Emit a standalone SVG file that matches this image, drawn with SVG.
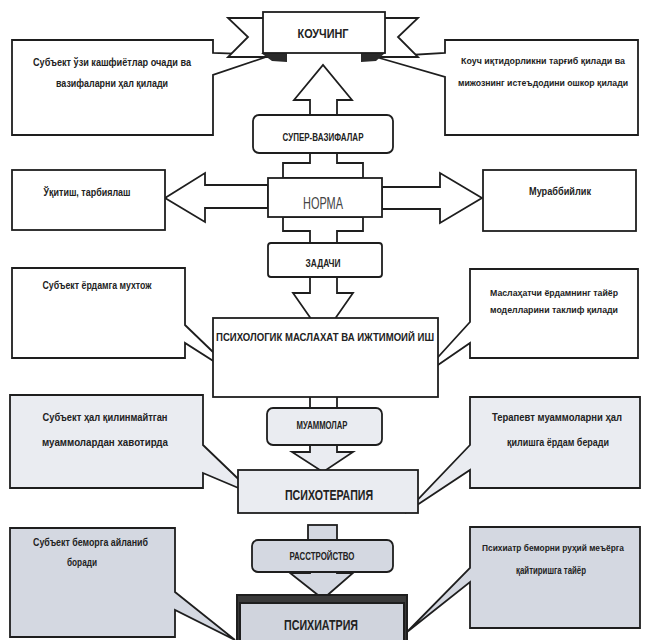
<svg xmlns="http://www.w3.org/2000/svg" width="647" height="640" viewBox="0 0 647 640">
<style>
.s{stroke:#1e1e1e;stroke-width:1.8;stroke-linejoin:miter}
.w{fill:#ffffff}
.g1{fill:#eaecf1}
.g2{fill:#d4d8e1}
.t{font-family:"Liberation Sans Narrow","Liberation Sans",Arial,sans-serif;font-weight:bold;fill:#222;text-anchor:middle}
.n{font-family:"Liberation Sans Narrow","Liberation Sans",Arial,sans-serif;font-weight:normal;fill:#444;text-anchor:middle}
</style>
<rect width="647" height="640" fill="#ffffff"/>
<g id="connectors">
  <polygon class="s w" points="310,115 310,100 294,100 323,65 352,100 337,100 337,115"/>
  <polygon class="s w" points="283,178 283,163 310,163 310,153 337,153 337,163 363,163 363,178"/>
  <polygon class="s w" points="283,217 283,231 310,231 310,243 337,243 337,231 363,231 363,217"/>
  <polygon class="s w" points="268,185 205,185 205,173 165,198 205,222 205,208 268,208"/>
  <polygon class="s w" points="382,187 440,187 440,173 482,198 440,223 440,209 382,209"/>
  <polygon class="s w" points="310,277 310,293 293,293 323,336 353,293 337,293 337,277"/>
  <rect class="s w" x="310" y="396" width="27" height="13"/>
  <polygon class="s g1" points="310,444 310,452 292,452 323,472 353,452 337,452 337,444"/>
  <rect class="s g2" x="308" y="525" width="29" height="16"/>
  <polygon class="s g2" points="310,571 310,573 290,573 323,599 353,573 337,573 337,571"/>
</g>
<g id="callout-tl">
  <path class="s w" d="M12,40 H213 V53 L272,55 L213,75 V135 H12 Z"/>
  <text class="t" x="112" y="66" font-size="10.5" textLength="158" lengthAdjust="spacingAndGlyphs">Субъект ўзи кашфиётлар очади ва</text>
  <text class="t" x="112" y="87" font-size="10.5" textLength="112" lengthAdjust="spacingAndGlyphs">вазифаларни ҳал қилади</text>
</g>
<g id="callout-tr">
  <path class="s w" d="M445,40 H638 V135 H445 V77 L376,57 L445,53 Z"/>
  <text class="t" x="543" y="64" font-size="9.5" textLength="164" lengthAdjust="spacingAndGlyphs">Коуч иқтидорликни тарғиб қилади ва</text>
  <text class="t" x="543" y="86" font-size="9.5" textLength="170" lengthAdjust="spacingAndGlyphs">мижознинг истеъдодини ошкор қилади</text>
</g>
<g id="coaching">
  <polygon class="s w" points="228,18 285,18 285,57 228,57 248,37"/>
  <polygon class="s w" points="418,18 363,18 363,57 418,57 398,37"/>
  <polygon fill="#2a2a2a" points="261,53 287,53 287,62 272,61"/>
  <polygon fill="#2a2a2a" points="361,53 385,53 376,61 361,62"/>
  <rect class="s w" x="263" y="12" width="122" height="41"/>
  <text class="t" x="323" y="38" font-size="13" textLength="51" lengthAdjust="spacingAndGlyphs">КОУЧИНГ</text>
</g>
<g id="super">
  <rect class="s w" x="253" y="115" width="140" height="38" rx="6"/>
  <text class="t" x="323" y="141" font-size="10" textLength="81" lengthAdjust="spacingAndGlyphs">СУПЕР-ВАЗИФАЛАР</text>
</g>
<g id="norma">
  <rect class="s w" x="268" y="178" width="114" height="39"/>
  <text class="n" x="323" y="209" font-size="17" textLength="40" lengthAdjust="spacingAndGlyphs">НОРМА</text>
</g>
<g id="oqitish">
  <rect class="s w" x="12" y="170" width="153" height="60"/>
  <text class="t" x="87" y="196" font-size="11" textLength="87" lengthAdjust="spacingAndGlyphs">Ўқитиш, тарбиялаш</text>
</g>
<g id="murabbiylik">
  <rect class="s w" x="483" y="170" width="153" height="61"/>
  <text class="t" x="560" y="195" font-size="11" textLength="62" lengthAdjust="spacingAndGlyphs">Мураббийлик</text>
</g>
<g id="zadachi">
  <rect class="s w" x="268" y="243" width="114" height="34" rx="3"/>
  <text class="t" x="323" y="267" font-size="10" textLength="35" lengthAdjust="spacingAndGlyphs">ЗАДАЧИ</text>
</g>
<g id="callout-ml">
  <path class="s w" d="M12,268 H185 V325 L240,378 L185,343 V358 H12 Z"/>
  <text class="t" x="97" y="289" font-size="10.5" textLength="109" lengthAdjust="spacingAndGlyphs">Субъект ёрдамга мухтож</text>
</g>
<g id="callout-mr">
  <path class="s w" d="M470,269 H638 V358 H470 V343 L419,378 L470,322 Z"/>
  <text class="t" x="554" y="296" font-size="9.5" textLength="128" lengthAdjust="spacingAndGlyphs">Маслаҳатчи ёрдамнинг тайёр</text>
  <text class="t" x="554" y="313" font-size="9.5" textLength="128" lengthAdjust="spacingAndGlyphs">моделларини таклиф қилади</text>
</g>
<g id="psixolog">
  <rect class="s w" x="213" y="318" width="225" height="79"/>
  <text class="t" x="325" y="341" font-size="10" textLength="218" lengthAdjust="spacingAndGlyphs">ПСИХОЛОГИК МАСЛАХАТ ВА ИЖТИМОИЙ ИШ</text>
</g>
<g id="muammolar">
  <rect class="s g1" x="267" y="408" width="115" height="37" rx="6"/>
  <text class="t" x="322" y="429" font-size="10" textLength="51" lengthAdjust="spacingAndGlyphs">МУАММОЛАР</text>
</g>
<g id="callout-pl">
  <path class="s g1" d="M10,395 H203 V445 L255,495 L203,473 V488 H10 Z"/>
  <text class="t" x="105" y="421" font-size="11.5" textLength="125" lengthAdjust="spacingAndGlyphs">Субъект ҳал қилинмайтган</text>
  <text class="t" x="105" y="446" font-size="11.5" textLength="126" lengthAdjust="spacingAndGlyphs">муаммолардан хавотирда</text>
</g>
<g id="callout-pr">
  <path class="s g1" d="M470,397 H640 V488 H470 V470 L405,513 L470,445 Z"/>
  <text class="t" x="557" y="421" font-size="11" textLength="130" lengthAdjust="spacingAndGlyphs">Терапевт муаммоларни ҳал</text>
  <text class="t" x="558" y="446" font-size="11" textLength="102" lengthAdjust="spacingAndGlyphs">қилишга ёрдам беради</text>
</g>
<g id="psixoterapiya">
  <rect class="s g1" x="238" y="470" width="180" height="43" stroke-width="2.2"/>
  <text class="t" x="329" y="500" font-size="15" textLength="88" lengthAdjust="spacingAndGlyphs">ПСИХОТЕРАПИЯ</text>
</g>
<g id="rasstroystvo">
  <rect class="s g2" x="252" y="540" width="141" height="32" rx="6"/>
  <text class="t" x="322" y="560" font-size="10" textLength="65" lengthAdjust="spacingAndGlyphs">РАССТРОЙСТВО</text>
</g>
<g id="callout-bl">
  <path class="s g2" d="M10,528 H175 V592 L235,640 L175,610 V637 H10 Z"/>
  <text class="t" x="33" y="546" font-size="11" textLength="115" lengthAdjust="spacingAndGlyphs" style="text-anchor:start">Субъект беморга айланиб</text>
  <text class="t" x="67" y="566" font-size="11" textLength="30" lengthAdjust="spacingAndGlyphs" style="text-anchor:start">боради</text>
</g>
<g id="callout-br">
  <path class="s g2" d="M470,527 H640 V628 H470 V582 L407,632 L470,568 Z"/>
  <text class="t" x="553" y="551" font-size="9" textLength="142" lengthAdjust="spacingAndGlyphs">Психиатр беморни руҳий меъёрга</text>
  <text class="t" x="551" y="574" font-size="10" textLength="70" lengthAdjust="spacingAndGlyphs">қайтиришга тайёр</text>
</g>
<g id="psixiatriya">
  <rect x="237" y="595" width="170" height="55" fill="#3a3a3a" stroke="#1e1e1e" stroke-width="2"/>
  <rect x="240" y="603" width="164" height="47" fill="#d0d4dd" stroke="#1e1e1e" stroke-width="2"/>
  <text class="t" x="321" y="630" font-size="14" textLength="74" lengthAdjust="spacingAndGlyphs">ПСИХИАТРИЯ</text>
</g>
</svg>
